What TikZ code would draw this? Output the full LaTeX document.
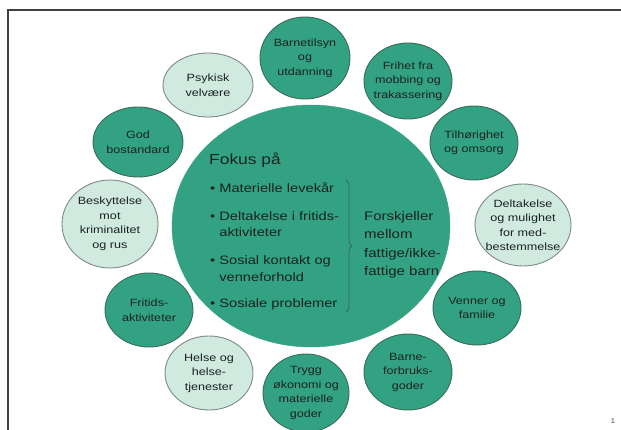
\documentclass[tikz,border=0pt]{standalone}
\usepackage{fontspec}
\setmainfont{Liberation Sans}[FakeStretch=1.2]
\usetikzlibrary{shapes.geometric, decorations.pathreplacing}

\definecolor{tealdark}{RGB}{50,162,130}
\definecolor{tealedge}{RGB}{58,108,94}
\definecolor{mintlight}{RGB}{208,234,224}
\definecolor{mintedge}{RGB}{125,138,133}
\definecolor{inktext}{RGB}{26,34,32}

\begin{document}
\begin{tikzpicture}[x=1pt, y=-1pt,
    % Styles
    bubble/.style={ellipse, draw, line width=0.9pt, inner sep=0pt},
    darkbubble/.style={bubble, fill=tealdark, draw=tealedge},
    lightbubble/.style={bubble, fill=mintlight, draw=mintedge},
    bubbletext/.style={align=center, text=inktext, inner sep=0pt, font=\fontsize{10.5}{14.5}\selectfont},
    focustitle/.style={anchor=west, inner sep=0pt, text=inktext, font=\fontsize{14.5}{16}\selectfont},
    focusitem/.style={anchor=west, inner sep=0pt, align=left, text=inktext, font=\fontsize{12.2}{16.5}\selectfont},
    gaptext/.style={anchor=west, inner sep=0pt, align=left, text=inktext, font=\fontsize{12.5}{18.5}\selectfont},
    frameline/.style={line width=1.4pt, draw=black!75},
]
    \useasboundingbox (0,0) rectangle (621,430);

    % Slide frame
    \draw[frameline] (621,10) -- (8,10) -- (8,430);

    % Central circle
    \node[ellipse, fill=tealdark, draw=tealdark, minimum width=278, minimum height=242] (focus) at (311,226) {};

    % Outer circles, clockwise from the top
    \node[darkbubble, minimum width=90, minimum height=82,
          label={[bubbletext]center:{Barnetilsyn\\og\\utdanning}}] (barnetilsyn) at (305,58) {};
    \node[darkbubble, minimum width=88, minimum height=76,
          label={[bubbletext]center:{Frihet fra\\mobbing og\\trakassering}}] (frihet) at (408,81) {};
    \node[darkbubble, minimum width=88, minimum height=74,
          label={[bubbletext]center:{Tilhørighet\\og omsorg}}] (tilhorighet) at (474,143) {};
    \node[lightbubble, minimum width=96, minimum height=82,
          label={[bubbletext]center:{Deltakelse\\og mulighet\\for med-\\bestemmelse}}] (deltakelse) at (523,225) {};
    \node[darkbubble, minimum width=88, minimum height=74,
          label={[bubbletext]center:{Venner og\\familie}}] (venner) at (477,308) {};
    \node[darkbubble, minimum width=88, minimum height=76,
          label={[bubbletext]center:{Barne-\\forbruks-\\goder}}] (forbruk) at (408,372) {};
    \node[darkbubble, minimum width=86, minimum height=78,
          label={[bubbletext]center:{Trygg\\økonomi og\\materielle\\goder}}] (okonomi) at (306,393) {};
    \node[lightbubble, minimum width=88, minimum height=74,
          label={[bubbletext]center:{Helse og\\helse-\\tjenester}}] (helse) at (209,373) {};
    \node[darkbubble, minimum width=88, minimum height=74,
          label={[bubbletext]center:{Fritids-\\aktiviteter}}] (fritid) at (149,310) {};
    \node[lightbubble, minimum width=96, minimum height=88,
          label={[bubbletext]center:{Beskyttelse\\mot\\kriminalitet\\og rus}}] (beskyttelse) at (110,224) {};
    \node[darkbubble, minimum width=90, minimum height=70,
          label={[bubbletext]center:{God\\bostandard}}] (bolig) at (138,142) {};
    \node[lightbubble, minimum width=90, minimum height=64,
          label={[bubbletext]center:{Psykisk\\velvære}}] (psykisk) at (208,85) {};

    % Text inside the central circle
    \node[focustitle] (fokus) at (209,160) {Fokus på};
    \node[focusitem] (item1) at (210,188) {\textbullet\ Materielle levekår};
    \node[focusitem] (item2) at (210,224) {\textbullet\ Deltakelse i fritids-\\\phantom{\textbullet\ }aktiviteter};
    \node[focusitem] (item3) at (210,268.5) {\textbullet\ Sosial kontakt og\\\phantom{\textbullet\ }venneforhold};
    \node[focusitem] (item4) at (210,304) {\textbullet\ Sosiale problemer};

    % Brace grouping the four items
    \coordinate (bracetop) at (346,180);
    \coordinate (bracebot) at (346,312);
    \draw[tealedge, line width=0.8pt, decorate, decoration={brace, amplitude=6pt}] (bracetop) -- (bracebot);

    \node[gaptext] (forskjeller) at (364,245) {Forskjeller\\mellom\\fattige/ikke-\\fattige barn};

    % Slide number
    \node[text=black!70, font=\fontsize{7}{8}\selectfont] (slidenum) at (613,421) {1};
\end{tikzpicture}
\end{document}
